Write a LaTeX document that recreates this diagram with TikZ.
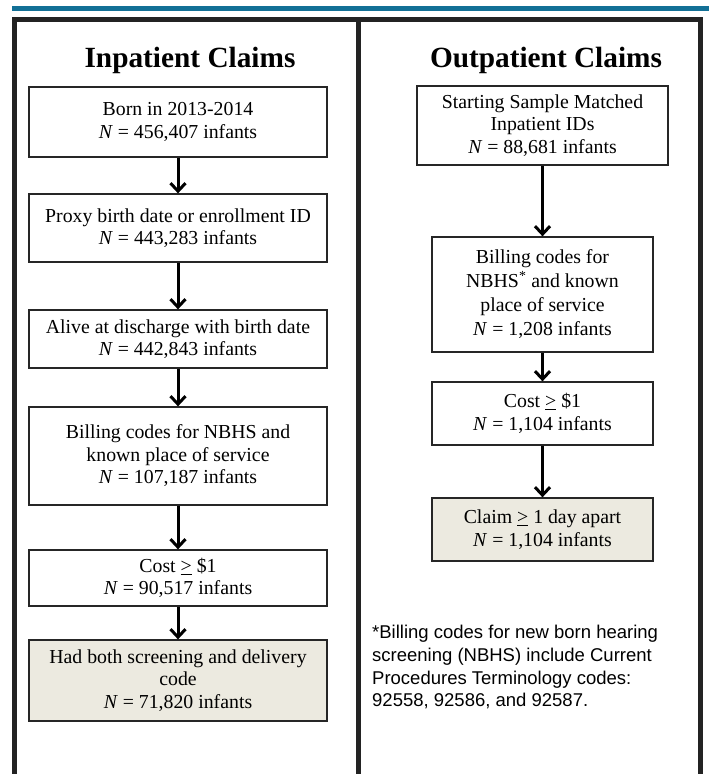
\documentclass[tikz,border=0pt]{standalone}
\usepackage{fontspec}
\setmainfont{Liberation Serif}
\newfontfamily\notefont{Liberation Sans}
\usetikzlibrary{arrows.meta}

\definecolor{topblue}{RGB}{18,112,150}
\definecolor{keepfill}{RGB}{236,234,224}
\definecolor{framegray}{RGB}{35,35,35}
\newcommand{\gebar}{\underline{>}}

\tikzset{
	stepbox/.style={draw=black!85, line width=1.3pt, fill=white, align=center,
		inner sep=0pt, font=\fontsize{19.8}{22.5}\selectfont},
	keepbox/.style={stepbox, fill=keepfill},
	flow/.style={line width=3pt, -{Straight Barb[length=8pt,width=15pt]}},
	paneltitle/.style={font=\fontsize{29.3}{32}\selectfont\bfseries, inner sep=0pt, anchor=base},
	notetext/.style={font=\notefont\fontsize{18.5}{22.7}\selectfont, align=left,
		inner sep=0pt, anchor=north west},
}

\begin{document}
\begin{tikzpicture}[x=1pt, y=-1pt]
		%%%%% START %%%%%
		
		\useasboundingbox (0, 0) rectangle (709, 774);
		\fill[white] (0, 0) rectangle (709, 774);
		
		\fill[topblue] (12, 6) rectangle (709, 11);
		\draw[line width=5pt, color=framegray] (14.5, 780) -- (14.5, 19.5) -- (700.5, 19.5) -- (700.5, 780);
		\draw[line width=5pt, color=framegray] (358.5, 19.5) -- (358.5, 780);
		
		\node[paneltitle] (intitle) at (190, 67) {Inpatient Claims};
		\node[paneltitle] (outtitle) at (546, 67) {Outpatient Claims};
		
		% inpatient side
		\node[stepbox, minimum width=298pt, minimum height=70pt] (born) at (178, 122)
			{Born in 2013-2014\\\textit{N} = 456,407 infants};
		\node[stepbox, minimum width=298pt, minimum height=68pt] (proxy) at (178, 228)
			{Proxy birth date or enrollment ID\\\textit{N} = 443,283 infants};
		\node[stepbox, minimum width=298pt, minimum height=58pt] (alive) at (178, 339)
			{Alive at discharge with birth date\\\textit{N} = 442,843 infants};
		\node[stepbox, minimum width=298pt, minimum height=98pt] (inbill) at (178, 456)
			{Billing codes for NBHS and\\known place of service\\\textit{N} = 107,187 infants};
		\node[stepbox, minimum width=298pt, minimum height=56pt] (incost) at (178, 578)
			{Cost \gebar{} \$1\\\textit{N} = 90,517 infants};
		\node[keepbox, minimum width=298pt, minimum height=81pt] (both) at (178, 680.5)
			{Had both screening and delivery\\code\\\textit{N} = 71,820 infants};
		
		\draw[flow] (born.south) -- (proxy.north);
		\draw[flow] (proxy.south) -- (alive.north);
		\draw[flow] (alive.south) -- (inbill.north);
		\draw[flow] (inbill.south) -- (incost.north);
		\draw[flow] (incost.south) -- (both.north);
		
		% outpatient side
		\node[stepbox, minimum width=251pt, minimum height=79pt] (start) at (542.5, 125.5)
			{Starting Sample Matched\\Inpatient IDs\\\textit{N} = 88,681 infants};
		\node[stepbox, minimum width=221pt, minimum height=115pt, font=\fontsize{19.8}{24}\selectfont] (outbill) at (542.5, 294.5)
			{Billing codes for\\NBHS\textsuperscript{*} and known\\place of service\\\textit{N} = 1,208 infants};
		\node[stepbox, minimum width=221pt, minimum height=63pt] (outcost) at (542.5, 413.5)
			{Cost \gebar{} \$1\\\textit{N} = 1,104 infants};
		\node[keepbox, minimum width=221pt, minimum height=63pt] (apart) at (542.5, 529.5)
			{Claim \gebar{} 1 day apart\\\textit{N} = 1,104 infants};
		
		\draw[flow] (start.south) -- (outbill.north);
		\draw[flow] (outbill.south) -- (outcost.north);
		\draw[flow] (outcost.south) -- (apart.north);
		
		\node[notetext] (codes) at (372, 625)
			{*Billing codes for new born hearing\\screening (NBHS) include Current\\Procedures Terminology codes:\\92558, 92586, and 92587.};
		
		%%%%% END %%%%%
\end{tikzpicture}
\end{document}
